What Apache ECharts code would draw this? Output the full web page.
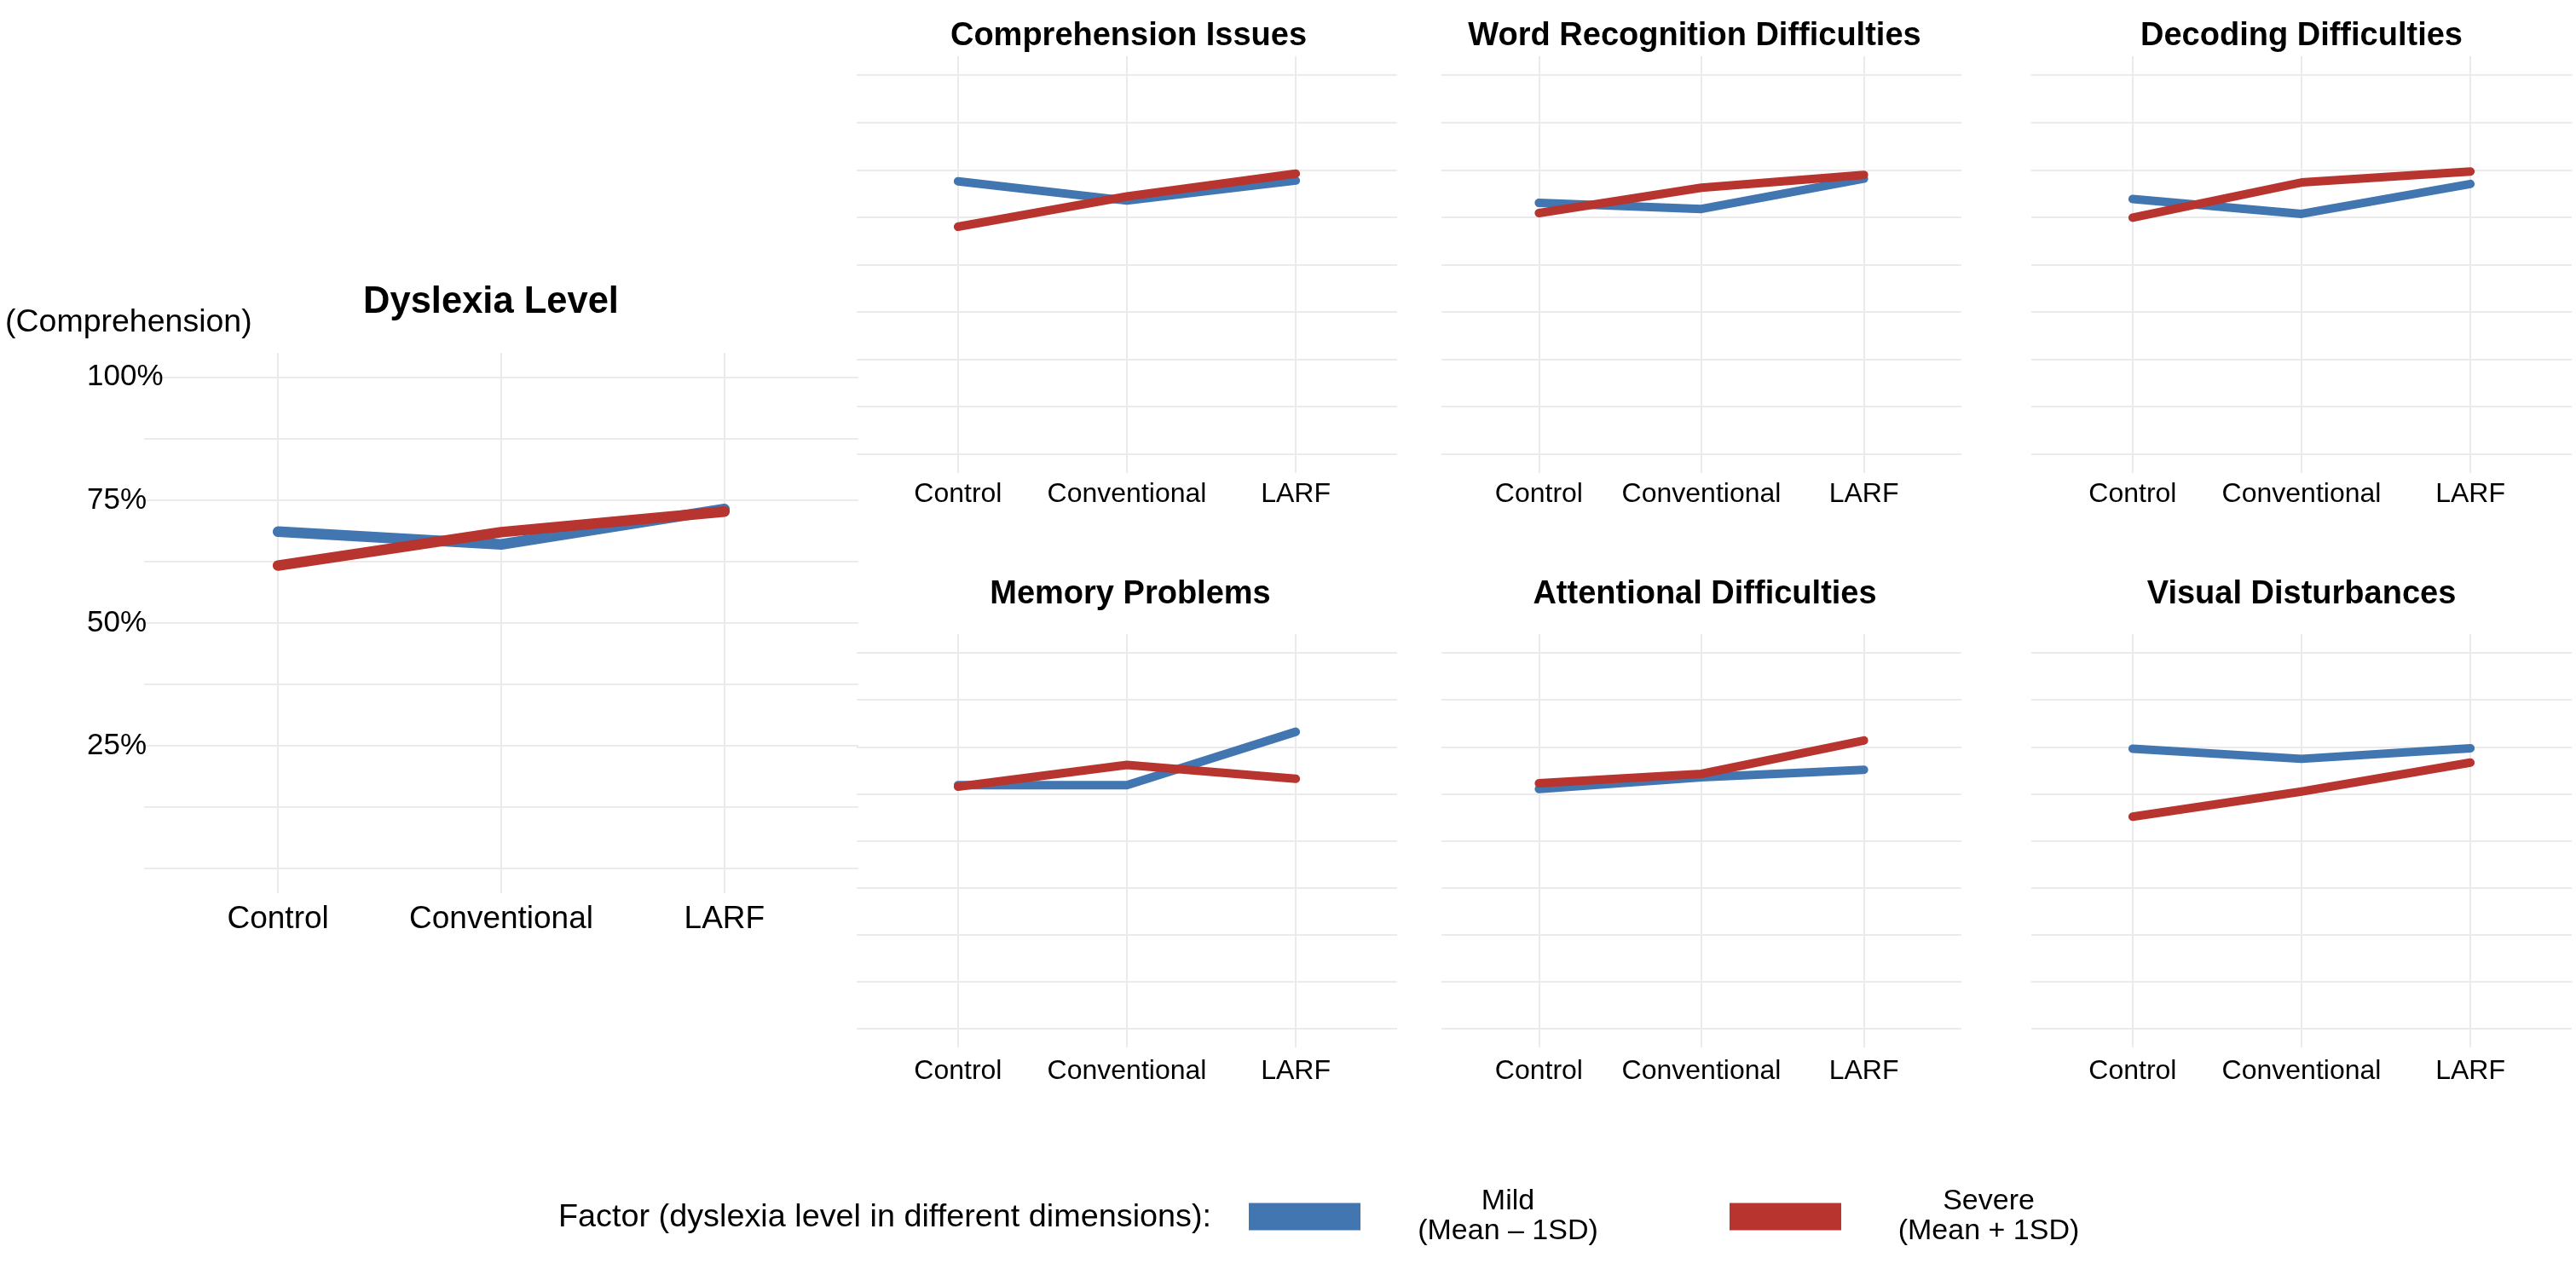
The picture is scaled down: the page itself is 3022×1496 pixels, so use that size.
<!DOCTYPE html>
<html><head><meta charset="utf-8">
<script src="https://cdn.jsdelivr.net/npm/echarts@6/dist/echarts.min.js"></script>
<style>html,body{margin:0;padding:0;background:#fff}#c{width:3022px;height:1496px}</style>
</head><body><div id="c"></div>
<script>
// ---------- data ----------
const categories = ['Control', 'Conventional', 'LARF'];
const panelTitles = ['Dyslexia Level', 'Comprehension Issues', 'Word Recognition Difficulties',
  'Decoding Difficulties', 'Memory Problems', 'Attentional Difficulties', 'Visual Disturbances'];
const seriesNames = ['Mild\n(Mean – 1SD)', 'Severe\n(Mean + 1SD)'];
const mildDyslexiaLevel     = [68.6, 66.0, 73.2];
const severeDyslexiaLevel   = [61.7, 68.5, 72.7];
const mildComprehension     = [72.0, 66.9, 72.2];
const severeComprehension   = [60.0, 68.0, 74.0];
const mildWordRecognition   = [66.3, 64.7, 72.7];
const severeWordRecognition = [63.6, 70.3, 73.7];
const mildDecoding          = [67.3, 63.4, 71.3];
const severeDecoding        = [62.4, 71.7, 74.6];
const mildMemory            = [64.8, 64.8, 79.0];
const severeMemory          = [64.4, 70.2, 66.5];
const mildAttention         = [63.8, 66.9, 68.9];
const severeAttention       = [65.3, 67.8, 76.7];
const mildVisual            = [74.5, 71.8, 74.6];
const severeVisual          = [56.4, 63.1, 70.8];
const yTickLabels = [25, 50, 75, 100];
const yGridValues = [0, 12.5, 25, 37.5, 50, 62.5, 75, 87.5, 100];
const yAxisTitle = '(Comprehension)';
const legendTitle = 'Factor (dyslexia level in different dimensions):';

const panelData = [
  [mildDyslexiaLevel, severeDyslexiaLevel],
  [mildComprehension, severeComprehension],
  [mildWordRecognition, severeWordRecognition],
  [mildDecoding, severeDecoding],
  [mildMemory, severeMemory],
  [mildAttention, severeAttention],
  [mildVisual, severeVisual]
];

// ---------- layout / style ----------
const FONT = '"Liberation Sans", Arial, Helvetica, sans-serif';
const COLORS = ['#4276B0', '#B8342E'];
const GRIDC = '#EBEBEB';
const layout = [
  {left: 169,  top: 414, width: 838, height: 634, main: true, tx: 576,  ty: 355},
  {left: 1005, top: 66,  width: 634, height: 489, tx: 1324, ty: 43},
  {left: 1691, top: 66,  width: 610, height: 489, tx: 1988, ty: 43},
  {left: 2383, top: 66,  width: 634, height: 489, tx: 2700, ty: 43},
  {left: 1005, top: 744, width: 634, height: 485, tx: 1326, ty: 698},
  {left: 1691, top: 744, width: 610, height: 485, tx: 2000, ty: 698},
  {left: 2383, top: 744, width: 634, height: 485, tx: 2700, ty: 698}
];

const grids = [], xAxes = [], yAxes = [], series = [], graphics = [];
layout.forEach((L, i) => {
  grids.push({left: L.left, top: L.top, width: L.width, height: L.height, containLabel: false});
  xAxes.push({
    type: 'value', gridIndex: i, min: -0.6, max: 2.6,
    axisLine: {show: false},
    axisTick: {show: false, customValues: [0, 1, 2]},
    axisLabel: {
      customValues: [0, 1, 2],
      formatter: v => categories[Math.round(v)],
      fontFamily: FONT, fontSize: L.main ? 37 : 32, color: '#000',
      margin: L.main ? 12 : (i < 4 ? 9 : 12)
    },
    splitLine: {show: true, lineStyle: {color: GRIDC, width: 2}}
  });
  yAxes.push({
    type: 'value', gridIndex: i, min: -5, max: 105,
    axisLine: {show: false},
    axisTick: {show: false, customValues: yGridValues},
    axisLabel: L.main ? {
      show: true, customValues: yTickLabels,
      formatter: v => v + '%', align: 'left', margin: 67,
      fontFamily: FONT, fontSize: 35, color: '#000', padding: [12, 0, 0, 0]
    } : {show: false},
    splitLine: {show: true, lineStyle: {color: GRIDC, width: 2}}
  });
  panelData[i].forEach((vals, k) => {
    series.push({
      name: seriesNames[k], type: 'line', xAxisIndex: i, yAxisIndex: i,
      data: categories.map((c, j) => [j, vals[j]]),
      showSymbol: false, symbol: 'none', silent: true, animation: false,
      lineStyle: {color: COLORS[k], width: L.main ? 12.5 : 10, cap: 'round', join: 'round'},
      itemStyle: {color: COLORS[k]}
    });
  });
  graphics.push({
    type: 'text', x: L.tx, y: L.ty,
    style: {text: panelTitles[i], fontFamily: FONT, fontWeight: 'bold',
      fontSize: L.main ? 43.5 : 38, fill: '#000', align: 'center', verticalAlign: 'middle'}
  });
});

graphics.push({
  type: 'text', x: 6, y: 379,
  style: {text: yAxisTitle, fontFamily: FONT, fontSize: 37.5, fill: '#000', align: 'left', verticalAlign: 'middle'}
});
graphics.push({
  type: 'text', x: 655, y: 1429,
  style: {text: legendTitle, fontFamily: FONT, fontSize: 37.8, fill: '#000', align: 'left', verticalAlign: 'middle'}
});

const chart = echarts.init(document.getElementById('c'), null, {renderer: 'canvas'});
chart.setOption({
  backgroundColor: '#fff',
  animation: false,
  grid: grids, xAxis: xAxes, yAxis: yAxes, series: series,
  graphic: graphics,
  legend: {
    data: seriesNames, left: 1465, top: 1393, itemGap: 92,
    icon: 'rect', itemWidth: 131, itemHeight: 32, padding: 0,
    selectedMode: false,
    formatter: name => name.split('\n').map(s => '{t|' + s + '}').join('\n'),
    textStyle: {
      fontFamily: FONT, color: '#000',
      rich: {t: {width: 336, align: 'center', fontSize: 34, lineHeight: 35, fontFamily: FONT, color: '#000'}}
    }
  }
});
</script></body></html>
